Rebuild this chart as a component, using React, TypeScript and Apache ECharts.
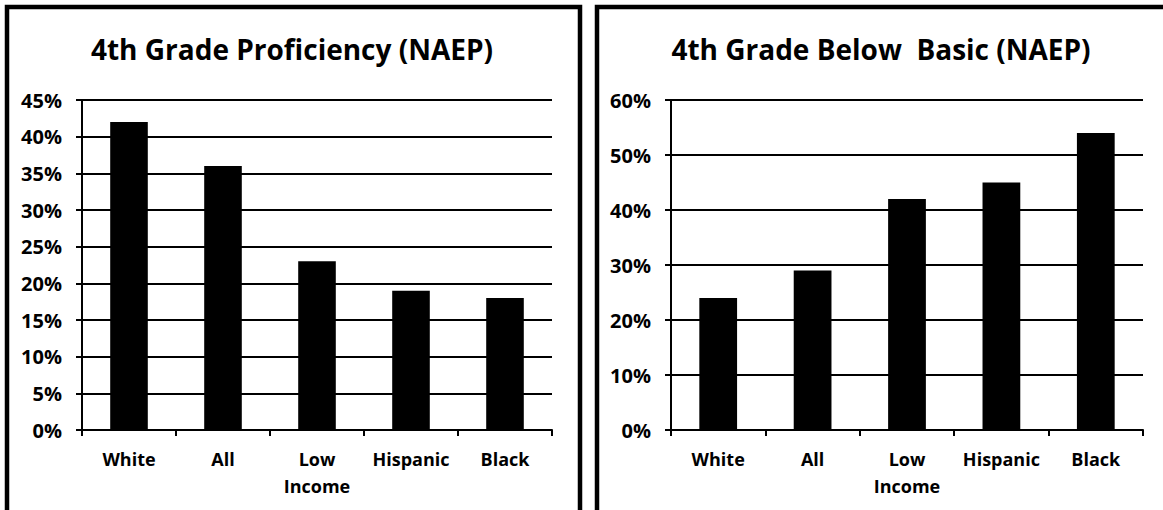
import React, { useEffect, useRef } from "react";
import * as echarts from "echarts";

const categories = ["White", "All", "Low\nIncome", "Hispanic", "Black"];
const proficiencyValues = [42, 36, 23, 19, 18];
const belowBasicValues = [24, 29, 42, 45, 54];
const leftTitle = "4th Grade Proficiency (NAEP)";
const rightTitle = "4th Grade Below  Basic (NAEP)";
const leftAxis = { min: 0, max: 45, interval: 5 };
const rightAxis = { min: 0, max: 60, interval: 10 };

const FONT = "Open Sans";

export default function App() {
  const ref = useRef<HTMLDivElement>(null);
  useEffect(() => {
    if (!ref.current) return;
    const chart = echarts.init(ref.current, undefined, { renderer: "svg" });
    const axisLabelStyle = {
      color: "#000",
      fontFamily: FONT,
      fontWeight: "bold" as const,
      fontSize: 18,
    };
    const xAxisCommon = {
      type: "category" as const,
      data: categories,
      axisLine: { show: true, lineStyle: { color: "#000", width: 2 } },
      axisTick: { show: true, length: 6, lineStyle: { color: "#000", width: 2 } },
      axisLabel: { ...axisLabelStyle, margin: 15, lineHeight: 27, interval: 0 },
    };
    const yAxisCommon = {
      type: "value" as const,
      axisLine: { show: true, lineStyle: { color: "#000", width: 2 } },
      axisTick: { show: true, length: 6, lineStyle: { color: "#000", width: 2 } },
      splitLine: { show: true, lineStyle: { color: "#000", width: 2 } },
      axisLabel: { ...axisLabelStyle, fontSize: 20, margin: 20, formatter: (v: number) => v + "%" },
    };
    chart.setOption({
      animation: false,
      backgroundColor: "#fff",
      grid: [
        { left: 82, top: 100, width: 470, height: 330 },
        { left: 671, top: 100, width: 472, height: 330 },
      ],
      xAxis: [
        { ...xAxisCommon, gridIndex: 0 },
        { ...xAxisCommon, gridIndex: 1 },
      ],
      yAxis: [
        { ...yAxisCommon, gridIndex: 0, ...leftAxis },
        { ...yAxisCommon, gridIndex: 1, ...rightAxis },
      ],
      series: [
        {
          type: "bar",
          xAxisIndex: 0,
          yAxisIndex: 0,
          data: proficiencyValues,
          barCategoryGap: "60%",
          itemStyle: { color: "#000" },
        },
        {
          type: "bar",
          xAxisIndex: 1,
          yAxisIndex: 1,
          data: belowBasicValues,
          barCategoryGap: "60%",
          itemStyle: { color: "#000" },
        },
      ],
      graphic: [
        {
          type: "rect",
          shape: { x: 7, y: 7, width: 573, height: 600 },
          style: { fill: "none", stroke: "#000", lineWidth: 4.5 },
        },
        {
          type: "rect",
          shape: { x: 597, y: 7, width: 700, height: 600 },
          style: { fill: "none", stroke: "#000", lineWidth: 4.5 },
        },
        {
          type: "text",
          x: 292,
          y: 49,
          style: {
            text: leftTitle,
            textAlign: "center",
            textVerticalAlign: "middle",
            fontFamily: FONT,
            fontWeight: "bold",
            fontSize: 28,
            fill: "#000",
          },
        },
        {
          type: "text",
          x: 881,
          y: 49,
          style: {
            text: rightTitle,
            textAlign: "center",
            textVerticalAlign: "middle",
            fontFamily: FONT,
            fontWeight: "bold",
            fontSize: 28,
            fill: "#000",
          },
        },
      ],
    });
    return () => chart.dispose();
  }, []);
  return (
    <div
      ref={ref}
      style={{ position: "absolute", left: 0, top: 0, width: 1163, height: 510, background: "#fff" }}
    />
  );
}
